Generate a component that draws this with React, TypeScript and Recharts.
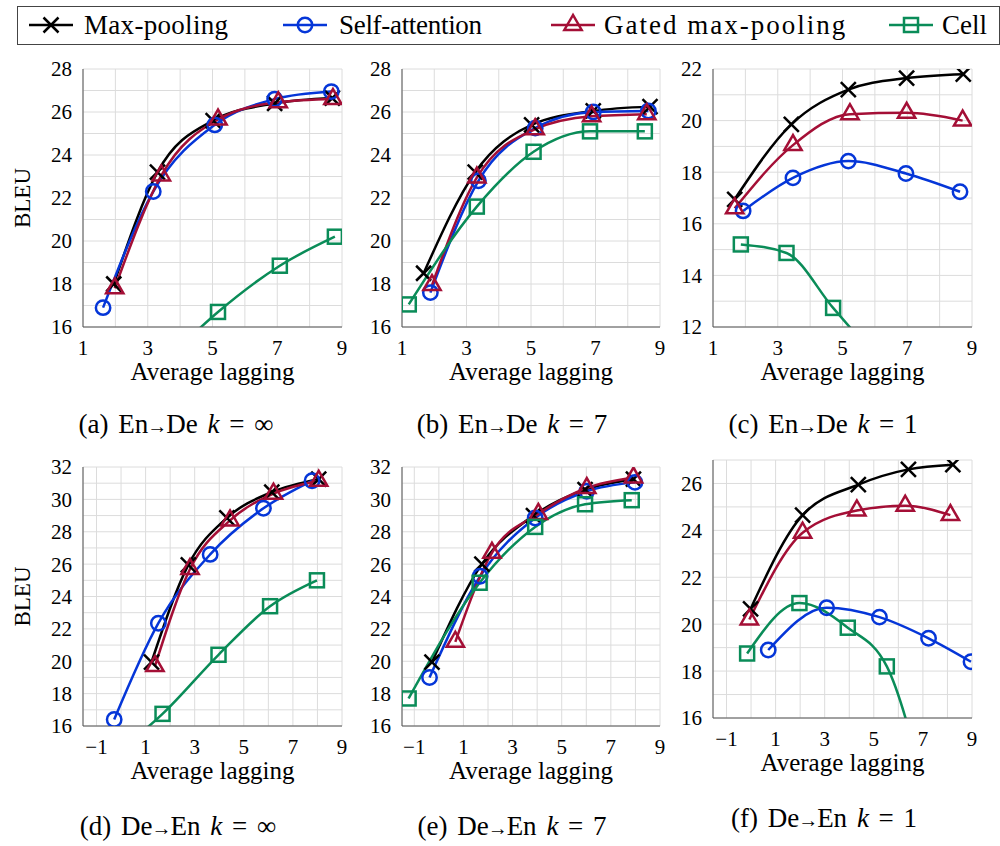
import React from 'react'
import { LineChart, Line, XAxis, YAxis, CartesianGrid } from 'recharts'

const FONT = '"Liberation Serif", "DejaVu Serif", serif'

const BLACK = '#000000'
const BLUE = '#0536d8'
const RED = '#a40f36'
const GREEN = '#0a8c58'

// tick positions (grid every 1, labels on odd x / even y)
const xTicksPos = [1, 2, 3, 4, 5, 6, 7, 8, 9]
const xTicksNeg = [-1, 0, 1, 2, 3, 4, 5, 6, 7, 8, 9]
const yTicksA = [16, 17, 18, 19, 20, 21, 22, 23, 24, 25, 26, 27, 28]
const yTicksC = [12, 13, 14, 15, 16, 17, 18, 19, 20, 21, 22]
const yTicksD = [16, 17, 18, 19, 20, 21, 22, 23, 24, 25, 26, 27, 28, 29, 30, 31, 32]
const yTicksF = [16, 17, 18, 19, 20, 21, 22, 23, 24, 25, 26, 27]

// (a) En→De k=∞  — [average lagging, BLEU]
const aMax = [[1.95, 18.0], [3.3, 23.2], [5.02, 25.6], [6.92, 26.4], [8.7, 26.65]]
const aSelf = [[1.62, 16.9], [3.17, 22.3], [5.07, 25.4], [6.92, 26.6], [8.67, 26.95]]
const aGated = [[1.98, 17.8], [3.42, 23.05], [5.17, 25.65], [7.03, 26.45], [8.72, 26.6]]
const aCell = [[3.4, 14.2], [5.17, 16.7], [7.08, 18.85], [8.78, 20.2]]

// (b) En→De k=7
const bMax = [[1.67, 18.5], [3.27, 23.2], [5.02, 25.4], [6.93, 26.05], [8.69, 26.25]]
const bSelf = [[1.88, 17.6], [3.37, 22.8], [5.13, 25.25], [6.93, 26.0], [8.64, 26.05]]
const bGated = [[1.93, 17.95], [3.32, 22.95], [5.13, 25.2], [6.88, 25.8], [8.59, 25.9]]
const bCell = [[1.21, 17.05], [3.32, 21.6], [5.08, 24.15], [6.83, 25.1], [8.53, 25.1]]

// (c) En→De k=1
const cMax = [[1.67, 16.95], [3.42, 19.85], [5.18, 21.2], [6.98, 21.65], [8.73, 21.8]]
const cSelf = [[1.93, 16.5], [3.47, 17.78], [5.18, 18.43], [6.96, 17.95], [8.63, 17.24]]
const cGated = [[1.67, 16.6], [3.47, 19.05], [5.23, 20.25], [6.98, 20.3], [8.71, 20.0]]
const cCell = [[1.86, 15.2], [3.27, 14.87], [4.71, 12.74], [6.6, 10.0]]

// (d) De→En k=∞
const dMax = [[1.24, 19.95], [2.74, 25.95], [4.31, 28.85], [6.14, 30.45], [8.05, 31.25]]
const dSelf = [[-0.28, 16.4], [1.52, 22.35], [3.63, 26.6], [5.8, 29.45], [7.78, 31.15]]
const dGated = [[1.38, 19.7], [2.81, 25.7], [4.44, 28.7], [6.21, 30.35], [8.05, 31.15]]
const dCell = [[-0.2, 14.3], [1.69, 16.75], [3.97, 20.4], [6.07, 23.4], [7.98, 25.0]]

// (e) De→En k=7
const eMax = [[-0.28, 19.95], [1.75, 26.0], [3.85, 29.0], [5.95, 30.6], [7.92, 31.25]]
const eSelf = [[-0.38, 19.0], [1.68, 25.25], [3.92, 28.85], [6.02, 30.5], [7.98, 31.05]]
const eGated = [[0.67, 21.2], [2.16, 26.7], [4.05, 29.1], [6.02, 30.7], [7.92, 31.35]]
const eCell = [[-1.23, 17.7], [1.66, 24.85], [3.92, 28.3], [5.95, 29.7], [7.85, 29.95]]

// (f) De→En k=1
const fMax = [[-0.02, 20.65], [2.1, 24.65], [4.37, 25.95], [6.41, 26.6], [8.22, 26.8]]
const fSelf = [[0.7, 18.9], [3.08, 20.7], [5.23, 20.3], [7.23, 19.4], [8.96, 18.4]]
const fGated = [[-0.07, 20.2], [2.1, 23.9], [4.31, 24.85], [6.28, 25.05], [8.12, 24.65]]
const fCell = [[-0.16, 18.75], [1.97, 20.9], [3.94, 19.85], [5.53, 18.2], [7.2, 12.4]]

const seriesNames = ['Max-pooling', 'Self-attention', 'Gated max-pooling', 'Cell']
const seriesColors = [BLACK, BLUE, RED, GREEN]
const seriesMarks = ['cross', 'circle', 'triangle', 'square']

const toPts = (arr: number[][]) => arr.map(([x, y]) => ({ x, y }))

function Mark({ kind, color, cx, cy }: { kind: string; color: string; cx: number; cy: number }) {
  const sw = 2.5
  if (kind === 'cross') {
    const s = 7.5
    return (
      <g stroke={color} strokeWidth={sw} fill="none">
        <line x1={cx - s} y1={cy - s} x2={cx + s} y2={cy + s} />
        <line x1={cx - s} y1={cy + s} x2={cx + s} y2={cy - s} />
      </g>
    )
  }
  if (kind === 'circle') return <circle cx={cx} cy={cy} r={7.2} stroke={color} strokeWidth={sw} fill="none" />
  if (kind === 'triangle') {
    const r = 10
    const pts = `${cx},${cy - r} ${cx - r * 0.866},${cy + r / 2} ${cx + r * 0.866},${cy + r / 2}`
    return <polygon points={pts} stroke={color} strokeWidth={sw} fill="none" />
  }
  return <rect x={cx - 7} y={cy - 7} width={14} height={14} stroke={color} strokeWidth={sw} fill="none" />
}

const makeDot = (kind: string, color: string, yMin: number) => (p: any) => {
  const { cx, cy, index, payload } = p
  if (cx == null || cy == null || payload.y < yMin) return <g key={`d${index}`} />
  return <g key={`d${index}`}><Mark kind={kind} color={color} cx={cx} cy={cy} /></g>
}

const fmtNum = (v: number) => (v < 0 ? `\u2212${-v}` : `${v}`)

const serif = { fontFamily: FONT }

// tick renderers: only odd x and even y get a label, the rest are grid-only
const XTick = (p: any) => {
  const v = p.payload.value
  if (Math.abs(v) % 2 !== 1) return <g />
  return (
    <text x={p.x} y={p.y} dy="0.71em" textAnchor="middle" fontSize={21} fill="#000" style={serif}>
      {fmtNum(v)}
    </text>
  )
}

const YTick = (p: any) => {
  const v = p.payload.value
  if (v % 2 !== 0) return <g />
  return (
    <text x={p.x} y={p.y} dy="0.355em" textAnchor="end" fontSize={21} fill="#000" style={serif}>
      {v}
    </text>
  )
}

interface PanelProps {
  left: number
  top: number
  w: number
  h: number
  xDomain: [number, number]
  yDomain: [number, number]
  xTicks: number[]
  yTicks: number[]
  data: number[][][]
  bleu?: boolean
}

const ML = 80
const MT = 20
const BORDER = '#555'

function Panel({ left, top, w, h, xDomain, yDomain, xTicks, yTicks, data, bleu }: PanelProps) {
  const bx = 22 - (left - ML)
  return (
    <div style={{ position: 'absolute', left: left - ML, top: top - MT }}>
      <LineChart width={w + ML + 25} height={h + MT + 70} margin={{ top: MT, right: 25, left: 0, bottom: 0 }}>
        <CartesianGrid stroke="#dcdcdc" strokeWidth={1} />
        <XAxis
          type="number"
          dataKey="x"
          domain={xDomain}
          ticks={xTicks}
          interval={0}
          allowDataOverflow
          axisLine={{ stroke: BORDER }}
          tickLine={false}
          tickSize={0}
          tickMargin={13}
          height={70}
          tick={XTick}
          label={() => (
            <text x={ML + w / 2} y={MT + h + 53} textAnchor="middle" fontSize={25} fill="#000" style={serif}>
              Average lagging
            </text>
          )}
        />
        <XAxis
          xAxisId="top"
          orientation="top"
          type="number"
          domain={xDomain}
          allowDataOverflow
          height={0}
          tick={false}
          tickLine={false}
          axisLine={{ stroke: BORDER }}
        />
        <YAxis
          type="number"
          domain={yDomain}
          ticks={yTicks}
          interval={0}
          allowDataOverflow
          axisLine={{ stroke: BORDER }}
          tickLine={false}
          tickSize={0}
          tickMargin={11}
          width={ML}
          tick={YTick}
          label={() =>
            bleu ? (
              <text
                x={bx}
                y={MT + h / 2}
                textAnchor="middle"
                dominantBaseline="central"
                fontSize={23}
                fill="#000"
                style={serif}
                transform={`rotate(-90 ${bx} ${MT + h / 2})`}
              >
                BLEU
              </text>
            ) : null
          }
        />
        <YAxis
          yAxisId="right"
          orientation="right"
          type="number"
          domain={yDomain}
          allowDataOverflow
          width={0}
          tick={false}
          tickLine={false}
          axisLine={{ stroke: BORDER }}
        />
        {data.map((arr, i) => (
          <Line
            key={seriesNames[i]}
            data={toPts(arr)}
            dataKey="y"
            type="monotone"
            stroke={seriesColors[i]}
            strokeWidth={2.5}
            dot={makeDot(seriesMarks[i], seriesColors[i], yDomain[0])}
            activeDot={false}
            isAnimationActive={false}
          />
        ))}
      </LineChart>
    </div>
  )
}

function LegendIcon({ kind, color }: { kind: string; color: string }) {
  return (
    <svg width={46} height={30} style={{ display: 'block' }}>
      <line x1={1} y1={15} x2={45} y2={15} stroke={color} strokeWidth={2.5} />
      <Mark kind={kind} color={color} cx={23} cy={15} />
    </svg>
  )
}

const legendIconX = [28, 282, 550, 888]
const legendTextX = [84, 339, 604, 942]
const legendSpacing = [0.3, -0.3, 2, 0]

function Caption({ cx, baseline, label, lang, k }: { cx: number; baseline: number; label: string; lang: string; k: string }) {
  const fs = 27
  const [src, dst] = lang.split('→')
  return (
    <div
      style={{
        position: 'absolute',
        left: cx - 160,
        width: 320,
        top: baseline - 0.84 * fs,
        fontSize: fs,
        lineHeight: 1,
        textAlign: 'center',
        whiteSpace: 'nowrap',
        wordSpacing: 3,
      }}
    >
      ({label}) {src}
      <span style={{ fontSize: 20, margin: '0 -1px' }}>→</span>
      {dst} <i>k</i> = {k}
    </div>
  )
}

export default function App() {
  const posTop: [number, number] = [1, 9]
  return (
    <div
      style={{
        position: 'absolute',
        left: 0,
        top: 0,
        width: 1000,
        height: 846,
        background: '#fff',
        fontFamily: FONT,
        color: '#000',
      }}
    >
      <div style={{ position: 'absolute', left: 17, top: 6, width: 981, height: 37, border: '1px solid #444' }} />
      {seriesNames.map((n, i) => (
        <React.Fragment key={n}>
          <div style={{ position: 'absolute', left: legendIconX[i], top: 10 }}>
            <LegendIcon kind={seriesMarks[i]} color={seriesColors[i]} />
          </div>
          <div
            style={{
              position: 'absolute',
              left: legendTextX[i],
              top: 6,
              lineHeight: '38px',
              fontSize: 27,
              whiteSpace: 'nowrap',
              letterSpacing: legendSpacing[i],
            }}
          >
            {n}
          </div>
        </React.Fragment>
      ))}

      <Panel left={83} top={69} w={259} h={258} xDomain={posTop} yDomain={[16, 28]} xTicks={xTicksPos} yTicks={yTicksA} data={[aMax, aSelf, aGated, aCell]} bleu />
      <Panel left={402} top={69} w={258} h={258} xDomain={posTop} yDomain={[16, 28]} xTicks={xTicksPos} yTicks={yTicksA} data={[bMax, bSelf, bGated, bCell]} />
      <Panel left={713} top={69} w={259} h={258} xDomain={posTop} yDomain={[12, 22]} xTicks={xTicksPos} yTicks={yTicksC} data={[cMax, cSelf, cGated, cCell]} />
      <Panel left={83} top={467} w={259} h={259} xDomain={[-1.55, 9]} yDomain={[16, 32]} xTicks={xTicksNeg} yTicks={yTicksD} data={[dMax, dSelf, dGated, dCell]} bleu />
      <Panel left={402} top={467} w={258} h={259} xDomain={[-1.5, 9]} yDomain={[16, 32]} xTicks={xTicksNeg} yTicks={yTicksD} data={[eMax, eSelf, eGated, eCell]} />
      <Panel left={713} top={460} w={259} h={258} xDomain={[-1.55, 9]} yDomain={[16, 27]} xTicks={xTicksNeg} yTicks={yTicksF} data={[fMax, fSelf, fGated, fCell]} />

      <Caption cx={176} baseline={434} label="a" lang="En→De" k="∞" />
      <Caption cx={512} baseline={434} label="b" lang="En→De" k="7" />
      <Caption cx={823} baseline={434} label="c" lang="En→De" k="1" />
      <Caption cx={178} baseline={836} label="d" lang="De→En" k="∞" />
      <Caption cx={512} baseline={836} label="e" lang="De→En" k="7" />
      <Caption cx={824} baseline={828} label="f" lang="De→En" k="1" />
    </div>
  )
}
